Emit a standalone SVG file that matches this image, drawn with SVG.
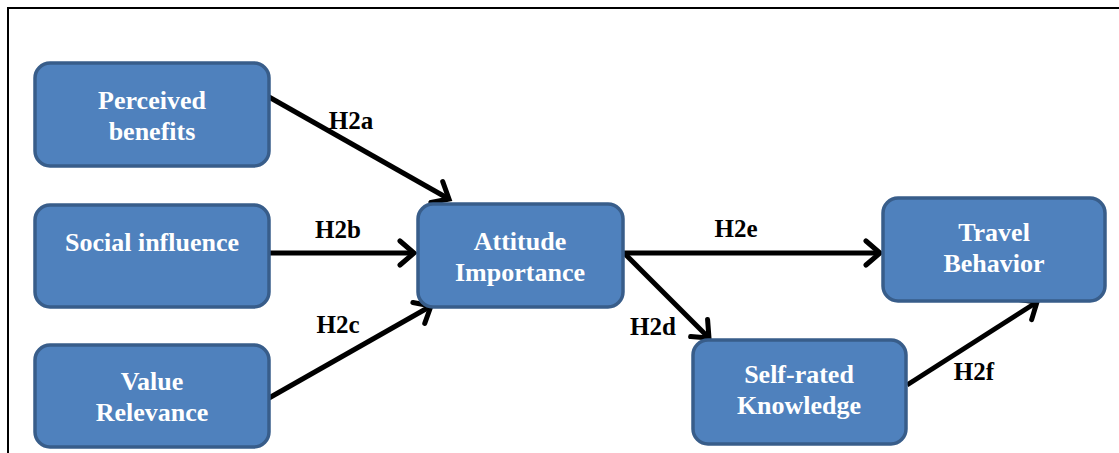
<svg xmlns="http://www.w3.org/2000/svg" width="1119" height="453" viewBox="0 0 1119 453">
<style>
.box{fill:#4f81bd;stroke:#385d8a;stroke-width:3.5}
.nt{font-family:"Liberation Serif","Times New Roman",serif;font-weight:bold;font-size:26px;fill:#ffffff;text-anchor:middle}
.lbl{font-family:"Liberation Serif","Times New Roman",serif;font-weight:bold;font-size:25px;fill:#000000;text-anchor:middle}
.c{stroke:#000;stroke-width:5;fill:none;marker-end:url(#ah)}
</style>
<defs>
<marker id="ah" markerUnits="userSpaceOnUse" markerWidth="30" markerHeight="30" refX="17" refY="15" orient="auto" viewBox="0 0 30 30">
<path d="M3,3 L17,15 L3,27" fill="none" stroke="#000" stroke-width="5" stroke-linecap="round" stroke-linejoin="miter"/>
</marker>
</defs>
<rect width="1119" height="453" fill="#ffffff"/>
<path d="M8,453 V8 H1119" fill="none" stroke="#000" stroke-width="2"/>
<g id="connectors">
<line class="c" x1="269" y1="97" x2="449" y2="199"/>
<line class="c" x1="269" y1="253" x2="414" y2="253"/>
<line class="c" x1="269" y1="398" x2="431" y2="306"/>
<line class="c" x1="624" y1="253" x2="880" y2="253"/>
<line class="c" x1="624" y1="253" x2="709" y2="338"/>
<line class="c" x1="907" y1="385" x2="1037" y2="302"/>
<text class="lbl" x="351" y="129">H2a</text>
<text class="lbl" x="338" y="238">H2b</text>
<text class="lbl" x="338" y="333">H2c</text>
<text class="lbl" x="736" y="237">H2e</text>
<text class="lbl" x="653" y="335">H2d</text>
<text class="lbl" x="974" y="380">H2f</text>
</g>
<g id="perceived">
<rect class="box" x="35" y="63" width="234" height="103" rx="15"/>
<text class="nt" x="152" y="109">Perceived</text>
<text class="nt" x="152" y="140">benefits</text>
</g>
<g id="social">
<rect class="box" x="35" y="205" width="234" height="102" rx="15"/>
<text class="nt" x="152" y="251">Social influence</text>
</g>
<g id="value">
<rect class="box" x="35" y="345" width="234" height="102" rx="15"/>
<text class="nt" x="152" y="390">Value</text>
<text class="nt" x="152" y="421">Relevance</text>
</g>
<g id="attitude">
<rect class="box" x="418" y="204" width="205" height="103" rx="15"/>
<text class="nt" x="520" y="250">Attitude</text>
<text class="nt" x="520" y="281">Importance</text>
</g>
<g id="travel">
<rect class="box" x="883" y="198" width="222" height="103" rx="15"/>
<text class="nt" x="994" y="241">Travel</text>
<text class="nt" x="994" y="272">Behavior</text>
</g>
<g id="selfrated">
<rect class="box" x="693" y="340" width="213" height="104" rx="15"/>
<text class="nt" x="799" y="383">Self-rated</text>
<text class="nt" x="799" y="414">Knowledge</text>
</g>
</svg>
